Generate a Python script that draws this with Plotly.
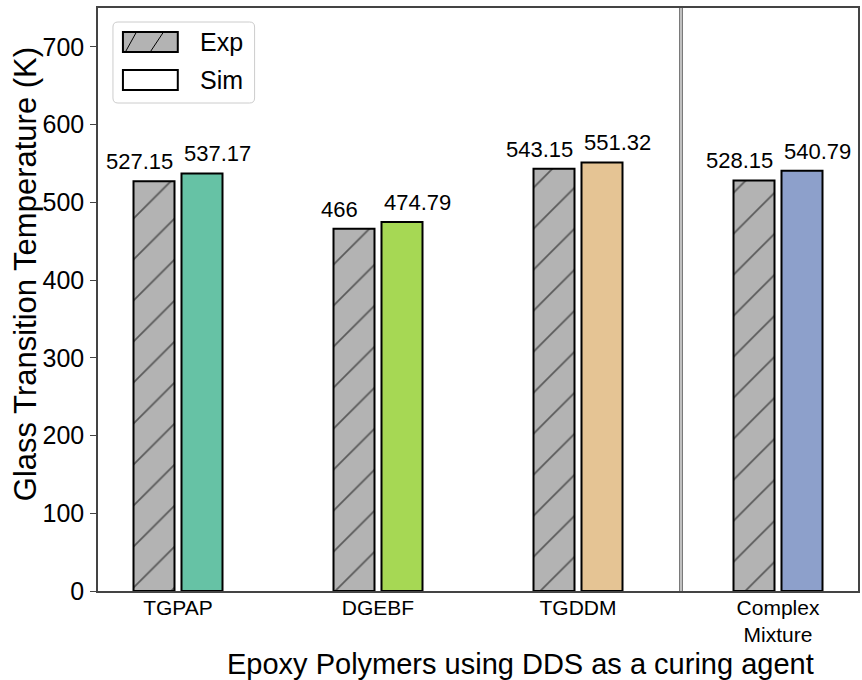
import plotly.graph_objects as go

# Glass transition temperatures (K) of epoxy systems cured with DDS
categories = ["TGPAP", "DGEBF", "TGDDM", "Complex<br>Mixture"]
exp_values = [527.15, 466, 543.15, 528.15]
sim_values = [537.17, 474.79, 551.32, 540.79]
sim_colors = ["#66c2a5", "#a6d854", "#e5c494", "#8da0cb"]
y_ticks = [0, 100, 200, 300, 400, 500, 600, 700]

positions = list(range(len(categories)))
bar_w = 0.205
shift = 0.12
label_spread = 0.075

W, H = 862, 680
ML, MR, MT, MB = 98, 2, 8, 89
PW, PH = W - ML - MR, H - MT - MB
FONT = "Liberation Sans, Arial, sans-serif"


def px_x(p):
    return (p - ML) / PW


def px_y(p):
    return (H - MB - p) / PH


def fmt(v):
    return f"{v:g}"


fig = go.Figure()

fig.add_trace(go.Bar(
    name="Exp",
    x=positions,
    y=exp_values,
    width=bar_w,
    offset=-shift - bar_w / 2,
    marker=dict(
        color="#b3b3b3",
        line=dict(color="black", width=2),
        pattern=dict(shape="/", fgcolor="black", bgcolor="#b3b3b3",
                     size=29, solidity=0.06, fillmode="overlay"),
    ),
    showlegend=False,
))

fig.add_trace(go.Bar(
    name="Sim",
    x=positions,
    y=sim_values,
    width=bar_w,
    offset=shift - bar_w / 2,
    marker=dict(color=sim_colors, line=dict(color="black", width=2)),
    showlegend=False,
))

# value labels above each bar
for xp, v in zip(positions, exp_values):
    fig.add_annotation(x=xp - shift - label_spread, y=v, text=fmt(v),
                       showarrow=False, yanchor="bottom", yshift=5,
                       font=dict(size=22, color="black"))
for xp, v in zip(positions, sim_values):
    fig.add_annotation(x=xp + shift + label_spread, y=v, text=fmt(v),
                       showarrow=False, yanchor="bottom", yshift=5,
                       font=dict(size=22, color="black"))

# double vertical separator between pure systems and the mixture
sep_x = 2.515
fig.add_shape(type="line", xref="x", yref="paper", x0=sep_x, x1=sep_x,
              y0=0, y1=1, line=dict(color="#7a7a7a", width=4))
fig.add_shape(type="line", xref="x", yref="paper", x0=sep_x, x1=sep_x,
              y0=0, y1=1, line=dict(color="#d9d9d9", width=1.5))

# legend box (rounded frame)
bx0, bx1, by0, by1, r = 113, 255, 22, 103, 5
path = (
    f"M {px_x(bx0 + r)} {px_y(by0)} L {px_x(bx1 - r)} {px_y(by0)} "
    f"Q {px_x(bx1)} {px_y(by0)} {px_x(bx1)} {px_y(by0 + r)} "
    f"L {px_x(bx1)} {px_y(by1 - r)} "
    f"Q {px_x(bx1)} {px_y(by1)} {px_x(bx1 - r)} {px_y(by1)} "
    f"L {px_x(bx0 + r)} {px_y(by1)} "
    f"Q {px_x(bx0)} {px_y(by1)} {px_x(bx0)} {px_y(by1 - r)} "
    f"L {px_x(bx0)} {px_y(by0 + r)} "
    f"Q {px_x(bx0)} {px_y(by0)} {px_x(bx0 + r)} {px_y(by0)} Z"
)
fig.add_shape(type="path", xref="paper", yref="paper", path=path,
              fillcolor="rgba(255,255,255,0.85)", line=dict(color="#cccccc", width=1))

# legend swatches
sx0, sx1 = 123, 178
fig.add_shape(type="rect", xref="paper", yref="paper",
              x0=px_x(sx0), x1=px_x(sx1), y0=px_y(52), y1=px_y(32),
              fillcolor="#b3b3b3", line=dict(color="black", width=2))
for (ax, ay, bx, by) in [(126, 51, 136, 33), (151, 51, 163, 33)]:
    fig.add_shape(type="line", xref="paper", yref="paper",
                  x0=px_x(ax), y0=px_y(ay), x1=px_x(bx), y1=px_y(by),
                  line=dict(color="black", width=1))
fig.add_shape(type="rect", xref="paper", yref="paper",
              x0=px_x(sx0), x1=px_x(sx1), y0=px_y(90), y1=px_y(70),
              fillcolor="white", line=dict(color="black", width=2))
for name, yc in [("Exp", 42), ("Sim", 80)]:
    fig.add_annotation(xref="paper", yref="paper", x=px_x(198), y=px_y(yc),
                       text=name, showarrow=False, xanchor="left", yanchor="middle",
                       font=dict(size=25, color="black"))

# axis titles
fig.add_annotation(xref="paper", yref="paper", x=px_x(522), y=px_y(663.5),
                   text="Epoxy Polymers using DDS as a curing agent",
                   showarrow=False, xanchor="center", yanchor="middle",
                   font=dict(size=29, color="black"))
fig.add_annotation(xref="paper", yref="paper", x=px_x(25), y=px_y(274),
                   text="Glass Transition Temperature (K)", textangle=-90,
                   showarrow=False, xanchor="center", yanchor="middle",
                   font=dict(size=31, color="black"))

fig.update_layout(
    width=W,
    height=H,
    margin=dict(l=ML, r=MR, t=MT, b=MB),
    plot_bgcolor="white",
    paper_bgcolor="white",
    barmode="overlay",
    showlegend=False,
    font=dict(family=FONT, size=24, color="black"),
    xaxis=dict(
        range=[-0.4, 3.4],
        tickmode="array",
        tickvals=positions,
        ticktext=categories,
        tickfont=dict(size=21),
        showgrid=False,
        zeroline=False,
        showline=True,
        linecolor="#444444",
        linewidth=1.5,
        mirror=True,
        ticks="",
        ticklabelstandoff=-3,
    ),
    yaxis=dict(
        range=[0, 750],
        tickmode="array",
        tickvals=y_ticks,
        tickfont=dict(size=25),
        showgrid=False,
        zeroline=False,
        showline=True,
        linecolor="#444444",
        linewidth=1.5,
        mirror=True,
        ticks="outside",
        ticklen=6,
        tickcolor="#444444",
        ticklabelstandoff=1,
    ),
)

fig.write_html("out.html")
